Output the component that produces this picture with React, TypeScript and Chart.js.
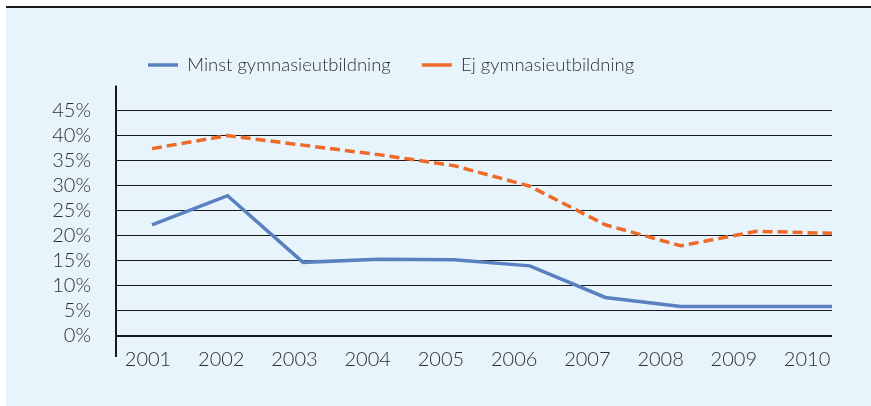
import React, { useEffect, useRef } from 'react';
import { Chart, registerables } from 'chart.js';

Chart.register(...registerables);

const years = [2001, 2002, 2003, 2004, 2005, 2006, 2007, 2008, 2009, 2010];
const minstGymnasie = [22.2, 28.0, 14.7, 15.3, 15.2, 14.0, 7.7, 5.9, 5.9, 5.9];
const ejGymnasie = [37.4, 40.0, 38.1, 36.2, 34.0, 29.9, 22.2, 18.0, 20.9, 20.5];
const seriesNames = ['Minst gymnasieutbildning', 'Ej gymnasieutbildning'];
const yTickValues = [0, 5, 10, 15, 20, 25, 30, 35, 40, 45, 50];
const yMax = 50;

const FONT = '"Lato", "Open Sans", sans-serif';
const TEXT = '#2e2e2e';

export default function App() {
  const ref = useRef<HTMLCanvasElement | null>(null);

  useEffect(() => {
    if (!ref.current) return;
    const legendPad = 31;
    const legendFont = 18.5;

    const decor = {
      id: 'decor',
      beforeDraw(chart: any) {
        const { ctx, width, height } = chart;
        ctx.save();
        ctx.fillStyle = '#E8F4FC';
        ctx.fillRect(6, 8, width - 6, height - 8);
        ctx.fillStyle = '#1a1a1a';
        ctx.fillRect(6, 6, width - 6, 2);
        ctx.restore();
      },
      afterLayout(chart: any) {
        const lg = chart.legend;
        if (lg) {
          lg.left = 148 - legendPad;
          lg.top = 65 - legendFont / 2 - legendPad;
          lg.right = lg.left + 700;
          lg.bottom = lg.top + legendFont + legendPad * 2;
        }
      },
      beforeDatasetsDraw(chart: any) {
        const { ctx, chartArea, scales } = chart;
        const top = scales.y.getPixelForValue(yMax);
        ctx.save();
        ctx.strokeStyle = '#1a1a1a';
        ctx.lineWidth = 2;
        ctx.beginPath();
        ctx.moveTo(chartArea.left, top);
        ctx.lineTo(chartArea.left, chartArea.bottom + 21);
        ctx.stroke();
        ctx.restore();
      },
    };

    const chart = new Chart(ref.current, {
      type: 'line',
      data: {
        datasets: [
          {
            label: seriesNames[0],
            data: years.map((y, i) => ({ x: y, y: minstGymnasie[i] })),
            borderColor: '#5B80BE',
            backgroundColor: '#5B80BE',
            borderWidth: 3.5,
            pointRadius: 0,
            tension: 0,
            xAxisID: 'x',
          },
          {
            label: seriesNames[1],
            data: years.map((y, i) => ({ x: y, y: ejGymnasie[i] })),
            borderColor: '#EE6A28',
            backgroundColor: '#EE6A28',
            borderWidth: 3.5,
            borderDash: [10, 5],
            pointRadius: 0,
            tension: 0,
            xAxisID: 'x',
          },
        ],
      },
      plugins: [decor],
      options: {
        responsive: false,
        animation: false,
        devicePixelRatio: 1,
        layout: { padding: { left: 0, right: 39, top: 26, bottom: 0 } },
        plugins: {
          tooltip: { enabled: false },
          legend: {
            position: 'top',
            align: 'start',
            labels: {
              usePointStyle: true,
              pointStyle: 'line',
              pointStyleWidth: 30,
              padding: legendPad,
              color: TEXT,
              font: { family: FONT, size: legendFont, weight: '300' },
            },
          },
        },
        scales: {
          x: {
            type: 'linear',
            display: false,
            min: 2000.524,
            max: 2010,
          },
          xl: {
            type: 'linear',
            position: 'bottom',
            min: 2000.563,
            max: 2010.341,
            grid: { display: false, drawTicks: false },
            border: { display: false },
            afterBuildTicks: (scale: any) => {
              scale.ticks = years.map((v) => ({ value: v }));
            },
            afterFit: (scale: any) => {
              scale.height = 70;
            },
            ticks: {
              padding: 12,
              autoSkip: false,
              maxRotation: 0,
              color: TEXT,
              font: { family: FONT, size: 20, weight: '300' },
              callback: (v: any) => String(v),
            },
          },
          y: {
            type: 'linear',
            min: 0,
            max: yMax,
            border: { display: false },
            afterBuildTicks: (scale: any) => {
              scale.ticks = yTickValues.map((v) => ({ value: v }));
            },
            afterFit: (scale: any) => {
              scale.width = 116;
            },
            grid: {
              drawTicks: false,
              color: (c: any) => (c.tick && c.tick.value === yMax ? 'rgba(0,0,0,0)' : '#1a1a1a'),
              lineWidth: (c: any) => (c.tick && c.tick.value === 0 ? 2 : 1),
            },
            ticks: {
              autoSkip: false,
              padding: 25,
              color: TEXT,
              font: { family: FONT, size: 20, weight: '300' },
              callback: (v: any) => (v === yMax ? '' : v + '%'),
            },
          },
        },
      },
    } as any);

    return () => chart.destroy();
  }, []);

  return (
    <canvas
      ref={ref}
      width={871}
      height={406}
      style={{ position: 'absolute', left: 0, top: 0, display: 'block', width: 871, height: 406 }}
    />
  );
}
